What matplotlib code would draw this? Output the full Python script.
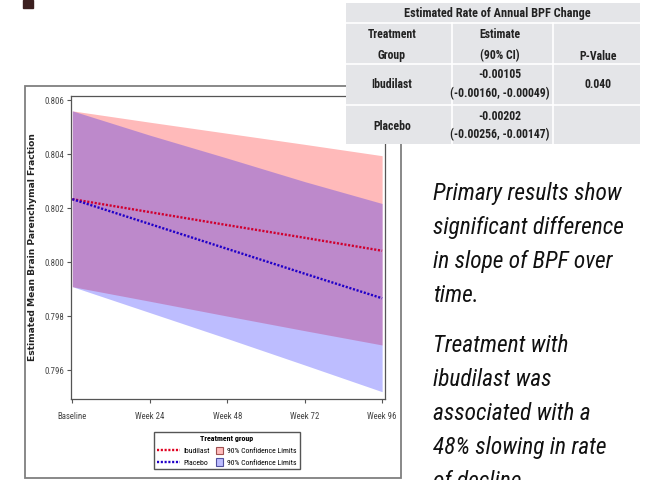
import numpy as np
import matplotlib
matplotlib.use("Agg")
import matplotlib.pyplot as plt
from matplotlib import font_manager
from matplotlib.patches import Rectangle, Patch
from matplotlib.lines import Line2D
from matplotlib.legend_handler import HandlerPatch

# Estimated mean BPF by visit, with 90% confidence limits
weeks = [0, 24, 48, 72, 96]
week_labels = ["Baseline", "Week 24", "Week 48", "Week 72", "Week 96"]

ibu_mean = [0.80233, 0.80185, 0.80137, 0.80090, 0.80042]
ibu_upper = [0.80560, 0.80518, 0.80477, 0.80436, 0.80394]
ibu_lower = [0.79909, 0.79855, 0.79800, 0.79746, 0.79693]

pla_mean = [0.80233, 0.80141, 0.80049, 0.79957, 0.79866]
pla_upper = [0.80560, 0.80470, 0.80385, 0.80298, 0.80217]
pla_lower = [0.79909, 0.79813, 0.79717, 0.79619, 0.79520]

yticks = [0.796, 0.798, 0.800, 0.802, 0.804, 0.806]

# summary table
table_title = "Estimated Rate of Annual BPF Change"
table_header = [["Treatment", "Group"], ["Estimate", "(90% CI)"], ["", "P-Value"]]
table_groups = ["Ibudilast", "Placebo"]
table_estimates = ["-0.00105", "-0.00202"]
table_ci = ["(-0.00160, -0.00049)", "(-0.00256, -0.00147)"]
table_pvalue = ["0.040", ""]

notes_1 = ["Primary results show", "significant difference",
           "in slope of BPF over", "time."]
notes_2 = ["Treatment with", "ibudilast was", "associated with a",
           "48% slowing in rate", "of decline."]

# narrowest sans family available
avail = {f.name for f in font_manager.fontManager.ttflist}
narrow = [f for f in ["Liberation Sans Narrow", "Roboto Condensed", "Arial Narrow",
                      "Roboto", "Liberation Sans", "DejaVu Sans"] if f in avail]

W, H = 649, 480
fig = plt.figure(figsize=(W / 100, H / 100), dpi=100)


def px(x0, y0, x1, y1):
    # pixel box (top-left origin) -> figure rect
    return [x0 / W, 1 - y1 / H, (x1 - x0) / W, (y1 - y0) / H]


def small_square(legend, orig_handle, xdescent, ydescent, width, height, fontsize):
    s = height * 1.1
    return Rectangle((-xdescent + width - s, -ydescent + (height - s) / 2), s, s)


ax = fig.add_axes(px(70.7, 96, 384.7, 399))

ax.fill_between(weeks, ibu_lower, ibu_upper, color="#ff0000", alpha=0.27, lw=0)
ax.fill_between(weeks, pla_lower, pla_upper, color="#0000ff", alpha=0.26, lw=0)
ax.plot(weeks, ibu_mean, color="#d0002e", lw=1.7, ls=(0, (0.9, 0.7)))
ax.plot(weeks, pla_mean, color="#2000c8", lw=1.7, ls=(0, (0.9, 0.7)))

ax.set_xlim(-0.5, 96.8)
ax.set_ylim(0.79493, 0.80615)
ax.set_xticks(weeks)
ax.set_xticklabels(week_labels)
ax.set_yticks(yticks)
ax.set_yticklabels([f"{v:.3f}" for v in yticks])
ax.tick_params(colors="#555555", labelcolor="#444444", length=3, width=0.8,
               labelsize=6.3)
ax.tick_params(axis="x", pad=6.5)
ax.tick_params(axis="y", pad=2)
for lab in ax.get_xticklabels() + ax.get_yticklabels():
    lab.set_family(narrow)
for s in ax.spines.values():
    s.set_color("#555555")
    s.set_linewidth(0.9)

ax.set_ylabel("Estimated Mean Brain Parenchymal Fraction", fontsize=6.6,
              fontweight="bold", color="#222222")
ax.yaxis.set_label_coords((37 - 70.7) / 314, 0.5)

handles = [Line2D([], [], color="#e00020", lw=1.7, ls=(0, (0.9, 0.7))),
           Line2D([], [], color="#2000c8", lw=1.7, ls=(0, (0.9, 0.7))),
           Patch(facecolor="#ffbcbc", edgecolor="#a05050", lw=0.8),
           Patch(facecolor="#bcbcff", edgecolor="#5050a0", lw=0.8)]
labels = ["Ibudilast", "Placebo", "90% Confidence Limits", "90% Confidence Limits"]
leg = ax.legend(handles, labels, ncol=2, loc="center",
                bbox_to_anchor=(227 / W, 1 - 450.5 / H),
                bbox_transform=fig.transFigure, title="Treatment group",
                prop={"family": narrow, "size": 5.6}, fancybox=False,
                edgecolor="#555555", framealpha=1, handlelength=2.9,
                handleheight=0.95, handletextpad=0.5, columnspacing=-1.2,
                labelspacing=0.6, borderpad=0.45,
                handler_map={Patch: HandlerPatch(patch_func=small_square)})
leg.get_title().set_fontweight("bold")
leg.get_title().set_fontsize(5.8)
leg.get_title().set_family(narrow)
leg.get_frame().set_linewidth(1.0)

# overlay in pixel coordinates for the frame, table and notes
ov = fig.add_axes([0, 0, 1, 1], zorder=5)
ov.set_xlim(0, W)
ov.set_ylim(H, 0)
ov.axis("off")
ov.patch.set_alpha(0)

ov.add_patch(Rectangle((23, 0), 10, 8, color="#3b1f1f"))
ov.add_patch(Rectangle((25, 86), 376, 392, fill=False, edgecolor="#7f7f7f",
                       lw=1.3))

# table
tx0, tx1 = 346, 640
cols = [346, 452, 553, 640]
rows = [3, 23, 64, 105, 144]
ov.add_patch(Rectangle((tx0, rows[0]), tx1 - tx0, rows[-1] - rows[0],
                       facecolor="#e4e5e8", edgecolor="none"))
for yv in rows[1:-1]:
    ov.plot([tx0, tx1], [yv, yv], color="white", lw=1.2)
for xv in cols[1:-1]:
    ov.plot([xv, xv], [rows[1], rows[-1]], color="white", lw=1.2)

tkw = dict(family=narrow, fontsize=8.5, fontweight="bold", color="#222222",
           ha="center", va="center")
ov.text(497, 13, table_title, **dict(tkw, fontsize=8.8))
cx = [392, 500, 598]
for i, (top, bot) in enumerate(table_header):
    ov.text(cx[i], 35, top, **tkw)
    ov.text(cx[i], 56, bot, **tkw)
for r, g in enumerate(table_groups):
    y0 = rows[2 + r]
    ov.text(cx[0], y0 + 21, g, **tkw)
    ov.text(cx[1], y0 + 11, table_estimates[r], **tkw)
    ov.text(cx[1], y0 + 30, table_ci[r], **tkw)
    ov.text(cx[2], y0 + 20, table_pvalue[r], **tkw)

nkw = dict(family=narrow, fontsize=16.8, style="italic", color="#111111",
           ha="left", va="baseline")
for i, line in enumerate(notes_1):
    ov.text(433, 200 + 34 * i, line, **nkw)
for i, line in enumerate(notes_2):
    ov.text(433, 352 + 34 * i, line, **nkw)

fig.savefig("out.png", dpi=100)
